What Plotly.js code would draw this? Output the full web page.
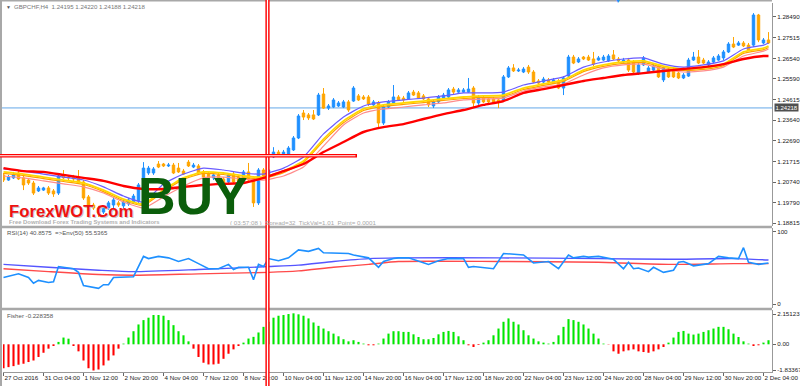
<!DOCTYPE html>
<html><head><meta charset="utf-8">
<script src="https://cdn.plot.ly/plotly-3.0.1.min.js"></script>
<style>html,body{margin:0;padding:0;background:#fff;}#chart{width:800px;height:386px;}</style>
</head><body><div id="chart"></div>
<script>
// ---------- x categories (H4 bars) ----------
const xTickBars = [0,8,16,24,32,40,48,56,64,72,80,88,96,104,112,120,128,136,144,152];
const xTickText = ['27 Oct 2016','31 Oct 04:00','1 Nov 12:00','2 Nov 20:00','4 Nov 04:00','7 Nov 12:00','8 Nov 20:00','10 Nov 04:00','11 Nov 12:00','14 Nov 20:00','16 Nov 04:00','17 Nov 12:00','18 Nov 20:00','22 Nov 04:00','23 Nov 12:00','24 Nov 20:00','28 Nov 04:00','29 Nov 12:00','30 Nov 20:00','2 Dec 04:00'];

// ---------- GBPCHF H4 candles ----------
const openP = [1.2108,1.2084,1.2094,1.2117,1.2094,1.2084,1.2070,1.2033,1.2037,1.2047,
1.2033,1.2023,1.2103,1.2098,1.2098,1.2098,1.2075,1.2005,1.1967,1.1953,
1.1934,1.1953,1.1967,1.1977,1.1963,1.1972,1.1981,1.1986,1.2084,1.2117,
1.2117,1.2159,1.2159,1.2150,1.2154,1.2140,1.2126,1.2168,1.2145,1.2150,
1.2122,1.2112,1.2094,1.2108,1.2089,1.2075,1.2112,1.2098,1.2098,1.2122,
1.2084,1.1977,1.2131,1.2108,1.2192,1.2215,1.2201,1.2206,1.2225,1.2281,
1.2398,1.2389,1.2389,1.2389,1.2487,1.2421,1.2426,1.2431,1.2426,1.2450,
1.2454,1.2478,1.2473,1.2473,1.2436,1.2445,1.2351,1.2426,1.2445,1.2473,
1.2468,1.2464,1.2496,1.2492,1.2478,1.2464,1.2431,1.2450,1.2468,1.2473,
1.2510,1.2496,1.2496,1.2496,1.2515,1.2445,1.2468,1.2464,1.2464,1.2459,
1.2459,1.2567,1.2609,1.2595,1.2590,1.2613,1.2590,1.2548,1.2543,1.2553,
1.2538,1.2548,1.2515,1.2571,1.2660,1.2637,1.2660,1.2660,1.2651,1.2646,
1.2646,1.2642,1.2670,1.2651,1.2637,1.2646,1.2637,1.2585,1.2623,1.2590,
1.2599,1.2618,1.2553,1.2599,1.2599,1.2585,1.2562,1.2571,1.2646,1.2660,
1.2646,1.2623,1.2637,1.2646,1.2656,1.2684,1.2721,1.2716,1.2726,1.2716,
1.2716,1.2857,1.2726,1.2740];
const highP = [1.2117,1.2108,1.2122,1.2131,1.2103,1.2094,1.2080,1.2056,1.2052,1.2056,
1.2042,1.2112,1.2131,1.2108,1.2108,1.2131,1.2084,1.2014,1.1977,1.1963,
1.1967,1.1986,1.2005,1.1986,1.1991,1.2000,1.2019,1.2070,1.2168,1.2150,
1.2145,1.2173,1.2164,1.2164,1.2164,1.2164,1.2136,1.2178,1.2164,1.2159,
1.2131,1.2122,1.2117,1.2117,1.2098,1.2117,1.2122,1.2108,1.2131,1.2164,
1.2094,1.2140,1.2140,1.2145,1.2238,1.2225,1.2225,1.2243,1.2290,1.2393,
1.2412,1.2398,1.2412,1.2492,1.2515,1.2440,1.2468,1.2454,1.2459,1.2459,
1.2524,1.2487,1.2482,1.2482,1.2459,1.2454,1.2436,1.2459,1.2529,1.2482,
1.2478,1.2501,1.2506,1.2501,1.2487,1.2473,1.2459,1.2482,1.2492,1.2515,
1.2520,1.2515,1.2515,1.2562,1.2524,1.2482,1.2478,1.2473,1.2473,1.2468,
1.2576,1.2618,1.2627,1.2609,1.2613,1.2623,1.2599,1.2557,1.2567,1.2562,
1.2562,1.2557,1.2571,1.2670,1.2670,1.2660,1.2665,1.2670,1.2684,1.2665,
1.2670,1.2674,1.2693,1.2660,1.2656,1.2656,1.2646,1.2632,1.2665,1.2618,
1.2627,1.2627,1.2618,1.2609,1.2609,1.2595,1.2585,1.2656,1.2684,1.2693,
1.2656,1.2646,1.2665,1.2674,1.2693,1.2730,1.2754,1.2735,1.2735,1.2726,
1.2866,1.2862,1.2749,1.2777];
const lowP = [1.2075,1.2080,1.2089,1.2084,1.2037,1.2061,1.2014,1.2028,1.2033,1.2014,
1.2005,1.2014,1.2089,1.2084,1.2080,1.2066,1.1991,1.1958,1.1944,1.1911,
1.1925,1.1944,1.1939,1.1958,1.1953,1.1963,1.1972,1.1977,1.2075,1.2108,
1.2108,1.2140,1.2145,1.2145,1.2112,1.2117,1.2108,1.2145,1.2140,1.2108,
1.2094,1.2084,1.2084,1.2075,1.2061,1.2066,1.2066,1.2070,1.2089,1.2075,
1.1958,1.1967,1.2094,1.2103,1.2187,1.2197,1.2192,1.2201,1.2220,1.2276,
1.2365,1.2365,1.2365,1.2384,1.2417,1.2412,1.2421,1.2426,1.2421,1.2403,
1.2450,1.2454,1.2459,1.2431,1.2431,1.2332,1.2342,1.2417,1.2440,1.2454,
1.2450,1.2459,1.2478,1.2464,1.2459,1.2426,1.2421,1.2440,1.2464,1.2468,
1.2487,1.2492,1.2492,1.2492,1.2426,1.2436,1.2445,1.2445,1.2445,1.2421,
1.2450,1.2562,1.2590,1.2590,1.2585,1.2581,1.2538,1.2529,1.2538,1.2534,
1.2534,1.2510,1.2482,1.2567,1.2627,1.2632,1.2646,1.2642,1.2618,1.2642,
1.2642,1.2637,1.2646,1.2637,1.2632,1.2590,1.2581,1.2576,1.2618,1.2585,
1.2595,1.2562,1.2543,1.2562,1.2562,1.2557,1.2557,1.2567,1.2642,1.2627,
1.2627,1.2618,1.2632,1.2642,1.2646,1.2679,1.2702,1.2712,1.2707,1.2688,
1.2707,1.2730,1.2721,1.2721];
const closeP = [1.2084,1.2098,1.2108,1.2089,1.2061,1.2070,1.2023,1.2047,1.2047,1.2023,
1.2019,1.2103,1.2094,1.2094,1.2089,1.2070,1.2000,1.1967,1.1953,1.1930,
1.1958,1.1977,1.1991,1.1967,1.1981,1.1991,1.2009,1.2061,1.2140,1.2140,
1.2136,1.2145,1.2150,1.2154,1.2117,1.2122,1.2112,1.2150,1.2154,1.2117,
1.2098,1.2094,1.2108,1.2084,1.2070,1.2108,1.2075,1.2080,1.2122,1.2084,
1.1977,1.2131,1.2103,1.2131,1.2215,1.2201,1.2215,1.2234,1.2281,1.2384,
1.2379,1.2375,1.2370,1.2482,1.2421,1.2431,1.2459,1.2445,1.2450,1.2412,
1.2515,1.2459,1.2464,1.2440,1.2450,1.2351,1.2426,1.2450,1.2473,1.2459,
1.2459,1.2492,1.2482,1.2468,1.2464,1.2436,1.2450,1.2473,1.2482,1.2506,
1.2496,1.2506,1.2506,1.2510,1.2445,1.2473,1.2450,1.2450,1.2450,1.2450,
1.2567,1.2609,1.2595,1.2599,1.2604,1.2590,1.2543,1.2538,1.2557,1.2543,
1.2553,1.2515,1.2562,1.2660,1.2632,1.2651,1.2651,1.2646,1.2627,1.2656,
1.2660,1.2665,1.2651,1.2642,1.2646,1.2599,1.2590,1.2623,1.2656,1.2609,
1.2618,1.2567,1.2609,1.2567,1.2567,1.2562,1.2576,1.2646,1.2660,1.2632,
1.2632,1.2637,1.2656,1.2665,1.2684,1.2721,1.2707,1.2726,1.2712,1.2693,
1.2857,1.2740,1.2740,1.2726];

// ---------- moving averages (read every 4 bars) ----------
const maBars = [0,4,8,12,16,20,24,28,32,36,40,44,48,52,56,60,64,68,72,76,80,84,88,92,96,100,104,108,112,116,120,124,128,132,136,140,144,148,152,153];
const maSlowRed = [1.2140,1.2126,1.2122,1.2108,1.2094,1.2080,1.2056,1.2042,1.2042,1.2052,1.2061,1.2066,1.2070,1.2094,1.2126,1.2159,1.2215,1.2262,1.2309,1.2332,1.2346,1.2370,1.2393,1.2412,1.2436,1.2454,1.2492,1.2510,1.2529,1.2548,1.2562,1.2576,1.2585,1.2595,1.2604,1.2613,1.2627,1.2651,1.2665,1.2665];
const maBlue = [1.2136,1.2126,1.2112,1.2098,1.2084,1.2052,1.2009,1.1981,1.2066,1.2112,1.2140,1.2131,1.2117,1.2112,1.2140,1.2192,1.2300,1.2379,1.2431,1.2450,1.2459,1.2468,1.2478,1.2492,1.2492,1.2496,1.2529,1.2548,1.2567,1.2613,1.2637,1.2651,1.2656,1.2627,1.2613,1.2623,1.2642,1.2698,1.2716,1.2726];
const maYellow = [1.2122,1.2112,1.2098,1.2084,1.2070,1.2037,1.1995,1.1972,1.2037,1.2094,1.2122,1.2117,1.2103,1.2098,1.2126,1.2173,1.2276,1.2361,1.2417,1.2436,1.2445,1.2454,1.2464,1.2473,1.2478,1.2482,1.2515,1.2534,1.2553,1.2599,1.2623,1.2637,1.2642,1.2618,1.2604,1.2609,1.2627,1.2684,1.2702,1.2712];
const maOrange = [1.2115,1.2105,1.2091,1.2077,1.2063,1.2030,1.1988,1.1965,1.2030,1.2087,1.2115,1.2110,1.2096,1.2091,1.2119,1.2166,1.2266,1.2352,1.2410,1.2429,1.2438,1.2447,1.2457,1.2466,1.2471,1.2475,1.2508,1.2527,1.2546,1.2592,1.2616,1.2630,1.2635,1.2611,1.2597,1.2602,1.2620,1.2677,1.2695,1.2705];
const maPink = [1.2103,1.2094,1.2080,1.2066,1.2052,1.2023,1.1981,1.1953,1.2005,1.2056,1.2094,1.2098,1.2089,1.2084,1.2103,1.2145,1.2243,1.2342,1.2398,1.2417,1.2426,1.2436,1.2445,1.2459,1.2464,1.2468,1.2501,1.2520,1.2534,1.2576,1.2609,1.2623,1.2627,1.2604,1.2590,1.2595,1.2613,1.2665,1.2688,1.2698];

// ---------- RSI(14) and envelope ----------
const rsiBars = [0,3,5,6,7,9,10,11,14,15,16,19,20,21,22,24,26,28,29,31,33,35,37,39,41,43,45,46,47,49,50,51,52,53,55,57,59,61,63,64,69,70,73,75,76,78,79,81,83,85,87,89,92,93,94,98,100,104,106,109,111,113,114,116,117,119,122,124,125,126,127,129,130,132,134,135,136,138,141,143,145,147,148,149,151,153];
const rsiVals = [37,42,37,29,33,30,31,52,49,44,26,22,27,27,37,38,38,66,63,66,64,59,63,56,49,49,55,48,51,51,34,55,52,63,60,64,75,73,77,71,70,68,64,51,59,63,64,64,60,55,60,63,63,51,52,49,70,68,57,59,49,68,64,66,65,66,62,49,58,49,50,45,51,44,47,58,59,53,56,66,64,63,78,58,55,57];
const envBars = [0,9,19,26,39,53,59,66,73,79,99,119,133,146,153];
const envUpper = [55,51,47,45,48,52,54,59,63,64,64,63,62,63,61];
const envLower = [49,45,41,40,42,44,46,51,55,59,59,58,55,56,56];

// ---------- Fisher transform ----------
const fisherVals = [-1.70,-1.62,-1.55,-1.45,-1.38,-1.26,-1.15,-0.90,-0.60,-0.31,
-0.12,0.17,0.48,0.40,-0.12,-0.50,-1.15,-1.70,-1.86,-1.79,
-1.50,-1.15,-0.79,-0.31,0.05,0.48,0.93,1.41,1.72,1.89,
2.08,2.08,2.03,1.72,1.36,0.93,0.64,0.21,-0.31,-0.90,
-1.31,-1.43,-1.43,-1.38,-1.03,-0.67,-0.36,-0.12,0.12,0.41,
0.53,0.84,1.24,1.60,1.89,2.03,2.08,2.15,2.20,2.13,
2.03,1.84,1.55,1.31,1.12,0.93,0.76,0.57,0.36,0.21,
0.29,0.17,0.05,-0.07,-0.07,0.05,0.41,0.76,0.93,0.93,
0.88,0.88,0.71,0.52,0.36,0.36,0.45,0.71,0.88,0.95,
0.88,0.57,0.29,-0.07,-0.19,-0.05,0.12,0.29,0.64,1.12,
1.60,1.84,1.60,1.41,1.00,0.64,0.41,0.21,0.12,0.05,
0.17,0.64,1.24,1.79,1.72,1.60,1.41,1.12,0.76,0.41,
0.05,-0.02,-0.50,-0.67,-0.50,-0.43,-0.36,-0.50,-0.55,-0.60,
-0.50,-0.36,-0.19,0.12,0.48,0.88,0.95,0.76,0.69,0.76,
0.88,1.00,1.12,1.24,1.24,1.07,0.76,0.52,0.21,0.05,
-0.12,-0.07,0.12,0.29];

// ---------- axis ticks ----------
const priceTicks = [1.28490,1.27515,1.26540,1.25590,1.24615,1.23640,1.22690,1.21715,1.20740,1.19790,1.18815];
const rsiTicks = [0,100];
const fisherTicks = [-1.833676,0,2.15123];
const fisherTickText = ['-1.833676','0.00','2.15123'];
const currentPrice = 1.24218;
const buyLevel = 1.2198;
const buyBar = 52.8;
const buyLineEndBar = 70.8;
const arrowBar = 122.8;

const bars = openP.map((_, i) => i);

const traces = [
  {type:'candlestick', x:bars, open:openP, high:highP, low:lowP, close:closeP,
   xaxis:'x', yaxis:'y', whiskerwidth:0, hoverinfo:'skip',
   increasing:{line:{color:'#1e90ff', width:1}, fillcolor:'#1e90ff'},
   decreasing:{line:{color:'#ffa500', width:1}, fillcolor:'#ffa500'}},
  {type:'scatter', mode:'lines', x:maBars, y:maPink, xaxis:'x', yaxis:'y', line:{color:'#ff8c8c', width:1.2, shape:'spline', smoothing:0.5}, hoverinfo:'skip'},
  {type:'scatter', mode:'lines', x:maBars, y:maOrange, xaxis:'x', yaxis:'y', line:{color:'#ffa000', width:1.2, shape:'spline', smoothing:0.5}, hoverinfo:'skip'},
  {type:'scatter', mode:'lines', x:maBars, y:maYellow, xaxis:'x', yaxis:'y', line:{color:'#ffd700', width:1.8, shape:'spline', smoothing:0.5}, hoverinfo:'skip'},
  {type:'scatter', mode:'lines', x:maBars, y:maBlue, xaxis:'x', yaxis:'y', line:{color:'#6a5cff', width:1.2, shape:'spline', smoothing:0.5}, hoverinfo:'skip'},
  {type:'scatter', mode:'lines', x:maBars, y:maSlowRed, xaxis:'x', yaxis:'y', line:{color:'#ff0000', width:2.4, shape:'spline', smoothing:0.5}, hoverinfo:'skip'},
  {type:'scatter', mode:'lines', x:envBars, y:envUpper, xaxis:'x', yaxis:'y2', line:{color:'#5555ff', width:1.4, shape:'spline', smoothing:0.6}, hoverinfo:'skip'},
  {type:'scatter', mode:'lines', x:envBars, y:envLower, xaxis:'x', yaxis:'y2', line:{color:'#ff4a4a', width:1.4, shape:'spline', smoothing:0.6}, hoverinfo:'skip'},
  {type:'scatter', mode:'lines', x:rsiBars, y:rsiVals, xaxis:'x', yaxis:'y2', line:{color:'#1e90ff', width:1.6}, hoverinfo:'skip'},
  {type:'bar', x:bars, y:fisherVals, xaxis:'x', yaxis:'y3', width:0.42,
   marker:{color:fisherVals.map(v => v >= 0 ? '#00e600' : '#ff0000'), line:{width:0}}, hoverinfo:'skip'}
];

const axFont = {family:'Liberation Sans, Arial, sans-serif', size:6.2, color:'#222'};
const yCommon = {side:'right', anchor:'x', ticks:'outside', ticklen:3, tickcolor:'#666', showgrid:false,
  zeroline:false, showline:true, linecolor:'#999', linewidth:1, tickfont:axFont, ticklabeloverflow:'allow', fixedrange:true};

const P = (py) => (372 - py) / 369; // pixel row -> paper y
const X = (px) => (px - 3) / 769;   // pixel col -> paper x

const layout = {
  width:800, height:386, margin:{l:3, r:28, t:3, b:14, pad:0},
  paper_bgcolor:'#ffffff', plot_bgcolor:'#ffffff', showlegend:false,
  font:{family:'Liberation Sans, Arial, sans-serif', size:6, color:'#222'},
  xaxis:{range:[-0.1,153.7], anchor:'y3', tickvals:xTickBars, ticktext:xTickText, ticks:'outside', ticklen:3,
    tickangle:0, tickcolor:'#666', ticklabelposition:'outside right', ticklabeloverflow:'allow', showgrid:false, zeroline:false,
    showline:true, linecolor:'#999', linewidth:1, rangeslider:{visible:false}, tickfont:axFont, fixedrange:true},
  yaxis:Object.assign({}, yCommon, {domain:[0.3957,1], range:[1.18688,1.29132], tickvals:priceTicks,
    ticktext:priceTicks.map(v => v.toFixed(5))}),
  yaxis2:Object.assign({}, yCommon, {domain:[0.1734,0.3902], range:[-5.1,105.1], tickvals:rsiTicks, ticktext:['0','100']}),
  yaxis3:Object.assign({}, yCommon, {domain:[0,0.168], range:[-1.967,2.436], tickvals:fisherTicks, ticktext:fisherTickText}),
  shapes:[
    {type:'line', xref:'paper', yref:'y', x0:X(0), x1:1, y0:currentPrice, y1:currentPrice, line:{color:'#a6cdf2', width:1.8}, layer:'below'},
    {type:'rect', xref:'paper', yref:'paper', x0:X(0), x1:1, y0:P(228.3), y1:P(225.8), fillcolor:'#a8a8a8', line:{width:0}},
    {type:'rect', xref:'paper', yref:'paper', x0:X(0), x1:1, y0:P(310.2), y1:P(307.8), fillcolor:'#a8a8a8', line:{width:0}},
    {type:'line', xref:'paper', yref:'paper', x0:X(1), x1:X(1), y0:P(386), y1:P(0), line:{color:'#a8a8a8', width:2}},
    {type:'line', xref:'paper', yref:'paper', x0:X(0), x1:1, y0:P(0.8), y1:P(0.8), line:{color:'#a8a8a8', width:1.6}},
    {type:'line', xref:'x', yref:'paper', x0:buyBar, x1:buyBar, y0:P(386), y1:P(0), line:{color:'#ff0000', width:4.2}},
    {type:'line', xref:'x', yref:'paper', x0:buyBar, x1:buyBar, y0:P(386), y1:P(0), line:{color:'#ffffff', width:1.3}},
    {type:'line', xref:'paper', yref:'y', x0:X(0), x1:X(3 + buyLineEndBar * 5), y0:buyLevel, y1:buyLevel, line:{color:'#ff0000', width:3.4}},
    {type:'line', xref:'paper', yref:'y', x0:X(0), x1:X(3 + buyLineEndBar * 5) - 0.002, y0:buyLevel, y1:buyLevel, line:{color:'#ffffff', width:1.1}}
  ],
  annotations:[
    {xref:'paper', yref:'paper', x:X(4), y:P(7), xanchor:'left', yanchor:'middle', showarrow:false,
     text:'▼', font:{size:5, color:'#555'}},
    {xref:'paper', yref:'paper', x:X(12), y:P(7), xanchor:'left', yanchor:'middle', showarrow:false,
     text:'GBPCHF,H4  1.24195 1.24220 1.24188 1.24218', font:{size:6.1, color:'#777'}},
    {xref:'x', yref:'paper', x:arrowBar, y:P(1), xanchor:'center', yanchor:'middle', showarrow:false,
     text:'▼', font:{size:8, color:'#1e90ff'}},
    {xref:'paper', yref:'y', x:X(774), y:currentPrice, xanchor:'left', yanchor:'middle', showarrow:false,
     text:'1.24218', font:{size:6, color:'#ffffff'}, bgcolor:'#505050', borderpad:0.5},
    {xref:'paper', yref:'paper', x:X(5), y:P(232.5), xanchor:'left', yanchor:'middle', showarrow:false,
     text:'RSI(14) 40.8575  =>Env(50) 55.5365', font:{size:6.1, color:'#555'}},
    {xref:'paper', yref:'paper', x:X(5), y:P(315), xanchor:'left', yanchor:'middle', showarrow:false,
     text:'Fisher -0.228358', font:{size:6.1, color:'#555'}},
    {xref:'paper', yref:'paper', x:X(8), y:P(211.5), xanchor:'left', yanchor:'middle', showarrow:false, height:14,
     text:'<b>ForexWOT.Com</b>', font:{family:'Liberation Sans, Arial, sans-serif', size:16.7, color:'#c8c8c8'}},
    {xref:'paper', yref:'paper', x:X(7), y:P(210.5), xanchor:'left', yanchor:'middle', showarrow:false, height:14,
     text:'<b>ForexWOT.Com</b>', font:{family:'Liberation Sans, Arial, sans-serif', size:16.7, color:'#ee1111'}},
    {xref:'paper', yref:'paper', x:X(7), y:P(221.5), xanchor:'left', yanchor:'middle', showarrow:false, height:6,
     text:'<b>Free Download Forex Trading Systems and Indicators</b>', font:{size:5.9, color:'#b0b0b0'}},
    {xref:'paper', yref:'paper', x:X(228), y:P(221.5), xanchor:'left', yanchor:'middle', showarrow:false, height:6,
     text:'( 03:57:08 )  Spread=32  TickVal=1.01  Point= 0.0001', font:{size:6.2, color:'#a8a8a8'}},
    {xref:'paper', yref:'paper', x:X(193), y:P(196), xanchor:'center', yanchor:'middle', showarrow:false, height:38,
     text:'<b>BUY</b>', font:{family:'Liberation Sans, Arial, sans-serif', size:52, color:'#0b5e0b'}}
  ]
};

Plotly.newPlot('chart', traces, layout, {displayModeBar:false, staticPlot:true});
</script>
</body></html>
